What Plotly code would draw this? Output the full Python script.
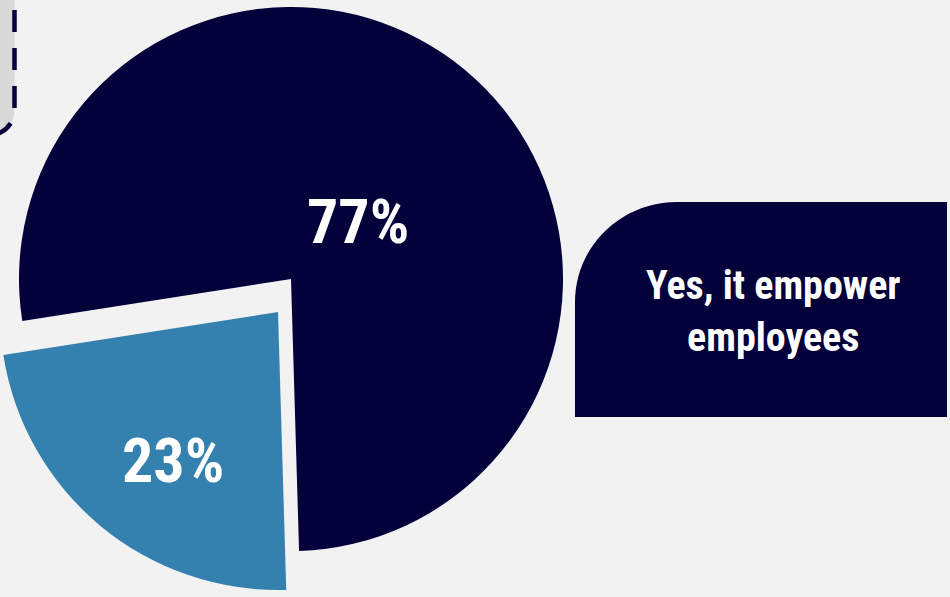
import plotly.graph_objects as go

# ---- data ----
labels = ["Yes, it empower employees", "No"]
values = [77, 23]
colors = ["#03003A", "#3481AF"]
box_text = "Yes, it empower<br>employees"

# ---- layout constants ----
W, H = 950, 597
BG = "#F2F2F2"
FONT = "Liberation Sans Narrow, Roboto Condensed, Roboto, sans-serif"
TRANSPARENT = "rgba(0,0,0,0)"
ROTATION = 261.1


def X(px):
    return px / W


def Y(py):
    return 1 - py / H


def px_domain(cx, cy, r):
    return dict(x=[(cx - r) / W, (cx + r) / W], y=[(H - cy - r) / H, (H - cy + r) / H])


def path(cmds):
    out = []
    for c in cmds:
        if isinstance(c, str):
            out.append(c)
        else:
            out.append(f"{X(c[0]):.5f},{Y(c[1]):.5f}")
    return " ".join(out)


fig = go.Figure()

# main (dark) slice
fig.add_trace(go.Pie(
    labels=labels, values=values, sort=False, direction="clockwise", rotation=ROTATION,
    marker=dict(colors=[colors[0], TRANSPARENT], line=dict(width=0)),
    textinfo="none", hoverinfo="label+percent", showlegend=False,
    domain=px_domain(291, 279, 272),
))
# exploded (blue) slice
fig.add_trace(go.Pie(
    labels=labels, values=values, sort=False, direction="clockwise", rotation=ROTATION,
    marker=dict(colors=[TRANSPARENT, colors[1]], line=dict(width=0)),
    textinfo="none", hoverinfo="label+percent", showlegend=False,
    domain=px_domain(278, 312, 278),
))

k = 0.5523
# right legend box with rounded top-left corner
box_path = path(["M", (575, 417), "L", (575, 302), "C", (575, 302 - k * 100), (677 - k * 102, 202), (677, 202),
                 "L", (947, 202), "L", (947, 417), "Z"])
# top-left partial grey box with dashed border
grey_path = path(["M", (-49.5, -40), "L", (14.5, -40), "L", (14.5, 110), "C", (14.5, 110 + k * 25),
                  (-10.5 + k * 25, 135), (-10.5, 135), "L", (-60, 135), "Z"])

shapes = [
    dict(type="path", xref="paper", yref="paper", path=box_path, fillcolor=colors[0],
         line=dict(width=0), layer="below"),
    dict(type="path", xref="paper", yref="paper", path=grey_path, fillcolor="#D9D9D9",
         line=dict(color=colors[0], width=4.5, dash="22px,16px"), layer="below"),
]

label_pos = [(358, 221), (173, 460)]
annotations = [
    dict(x=X(px), y=Y(py), xref="paper", yref="paper", text=f"{v}%", showarrow=False,
         xanchor="center", yanchor="middle",
         font=dict(family=FONT, size=62, color="white", weight="bold"))
    for v, (px, py) in zip(values, label_pos)
]
annotations.append(dict(x=X(773), y=Y(311), xref="paper", yref="paper", text=box_text, showarrow=False,
                        xanchor="center", yanchor="middle", align="center",
                        font=dict(family=FONT, size=40, color="white", weight="bold")))

fig.update_layout(
    width=W, height=H, margin=dict(l=0, r=0, t=0, b=0),
    paper_bgcolor=BG, plot_bgcolor=BG,
    shapes=shapes, annotations=annotations, showlegend=False,
)

fig.write_html("out.html", config={"displayModeBar": False},
               post_script="document.body.style.margin='0';")
